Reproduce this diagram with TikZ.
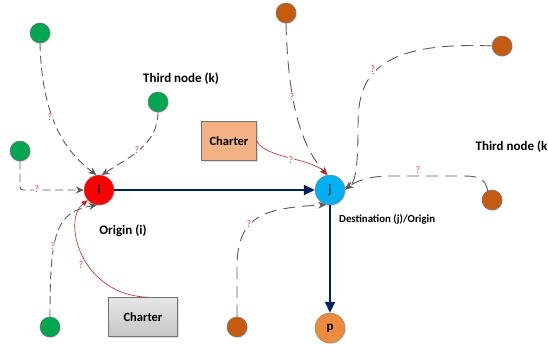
\documentclass[tikz,border=0pt]{standalone}
\usepackage{fontspec}
\setmainfont{Carlito}
\usetikzlibrary{arrows.meta,shadows}

\definecolor{nodegreen}{RGB}{0,166,80}
\definecolor{nodebrown}{RGB}{197,90,17}
\definecolor{nodered}{RGB}{255,0,0}
\definecolor{nodecyan}{RGB}{0,176,240}
\definecolor{nodeorange}{RGB}{237,140,60}
\definecolor{boxorange}{RGB}{244,177,131}
\definecolor{flowblue}{RGB}{0,32,96}
\definecolor{linkgray}{RGB}{90,90,90}
\definecolor{charterred}{RGB}{205,30,30}
\definecolor{qred}{RGB}{255,60,60}

\begin{document}
\begin{tikzpicture}[x=1pt,y=-1pt,
  softshadow/.style={drop shadow={shadow xshift=1pt,shadow yshift=-1pt,opacity=0.25}},
  smallnode/.style={circle,minimum size=20pt,inner sep=0pt,draw=black!55,line width=0.5pt,softshadow},
  greennode/.style={smallnode,fill=nodegreen},
  brownnode/.style={smallnode,fill=nodebrown},
  bignode/.style={circle,minimum size=30pt,inner sep=0pt,draw=black!45,line width=0.5pt,softshadow,font=\fontsize{13}{13}\selectfont},
  charterbox/.style={rectangle,minimum width=55pt,minimum height=39pt,draw=black!55,line width=0.6pt,softshadow,font=\bfseries\fontsize{12.5}{13}\selectfont},
  lbl/.style={font=\bfseries\fontsize{13}{14}\selectfont,inner sep=0pt},
  qmark/.style={font=\fontsize{10}{10}\selectfont,text=qred,fill=white,inner sep=0.6pt},
  flow/.style={draw=flowblue,line width=2.2pt,-{Triangle[length=11pt,width=10pt]}},
  linkshort/.style={draw=linkgray,line width=0.9pt,dash pattern=on 8pt off 4.5pt,-{Stealth[length=8pt,width=7pt]}},
  linklong/.style={draw=linkgray,line width=0.9pt,dash pattern=on 12pt off 7pt,-{Stealth[length=8pt,width=7pt]}},
  charterlink/.style={draw=charterred,line width=0.6pt,-{Triangle[length=6pt,width=5pt]}}
]
\useasboundingbox (0,0) rectangle (548,345);

% third nodes on the origin side
\node[greennode] (g1) at (40,33) {};
\node[greennode] (g2) at (158,102) {};
\node[greennode] (g3) at (20,151) {};
\node[greennode] (g4) at (50,327) {};

% third nodes on the destination side
\node[brownnode] (o1) at (286,13) {};
\node[brownnode] (o2) at (502,46) {};
\node[brownnode] (o3) at (492,200) {};
\node[brownnode] (o4) at (237,327) {};

% main nodes
\node[bignode,fill=nodered,font=\bfseries\fontsize{13}{13}\selectfont] (i) at (99,190) {i};
\node[bignode,fill=nodecyan] (j) at (330,190) {j};
\node[bignode,fill=nodeorange,font=\bfseries\fontsize{13}{13}\selectfont] (p) at (330,328) {p};

% charter boxes
\node[charterbox,fill=boxorange] (c1) at (229,141) {Charter};
\node[charterbox,minimum width=69pt,top color=black!10,bottom color=black!22] (c2) at (143,317) {Charter};

% labels
\node[lbl,anchor=west] (tk1) at (143,79) {Third node (k)};
\node[lbl] (orig) at (123,231) {Origin (i)};
\node[lbl,anchor=west,font=\bfseries\fontsize{10.8}{12}\selectfont] (dest) at (339,219) {Destination (j)/Origin};
\node[lbl,anchor=east] (tk2) at (547.5,147) {Third node (k};

% main flow
\draw[flow] (i) -- (j);
\draw[flow] (j) -- (p);

% dashed links into the origin
\draw[linkshort] (g1.south) .. controls (42,125) and (70,155) .. (i.100);
\draw[linkshort] (g2.south) .. controls (158,145) and (128,158) .. (i.80);
\draw[linkshort,rounded corners=3pt] (g3.south) |- (i.west);
\draw[linkshort] (g4.north) .. controls (50,235) and (55,212) .. (i.262);

% dashed links into the destination
\draw[linklong] (o1.south) .. controls (288,100) and (300,145) .. (j.100);
\draw[linklong] (o2.west) .. controls (360,40) and (358,90) .. (358,130)
  .. controls (358,172) and (354,184) .. (j.8);
\draw[linklong] (o3.115) .. controls (485,176) and (475,176) .. (460,176)
  -- (390,176) .. controls (368,176) and (354,182) .. (j.0);
\draw[linklong] (o4.north) -- (237,265) .. controls (238,215) and (265,208) .. (j.255);

% charter links
\draw[charterlink] ([xshift=5pt]c2.north) .. controls (80,295) and (62,220) .. (i.222);
\draw[charterlink] (c1.east) .. controls (265,158) and (310,158) .. (j.100);

% unknown-cost marks
\node[qmark] (q1) at (50,117) {?};
\node[qmark] (q2) at (137,150) {?};
\node[qmark] (q3) at (37,189) {?};
\node[qmark] (q4) at (53,246) {?};
\node[qmark] (q5) at (81,265) {?};
\node[qmark] (q6) at (291,160) {?};
\node[qmark] (q7) at (292,97) {?};
\node[qmark] (q8) at (373,69) {?};
\node[qmark] (q9) at (418,170) {?};
\node[qmark] (q10) at (249,224) {?};
\end{tikzpicture}
\end{document}
